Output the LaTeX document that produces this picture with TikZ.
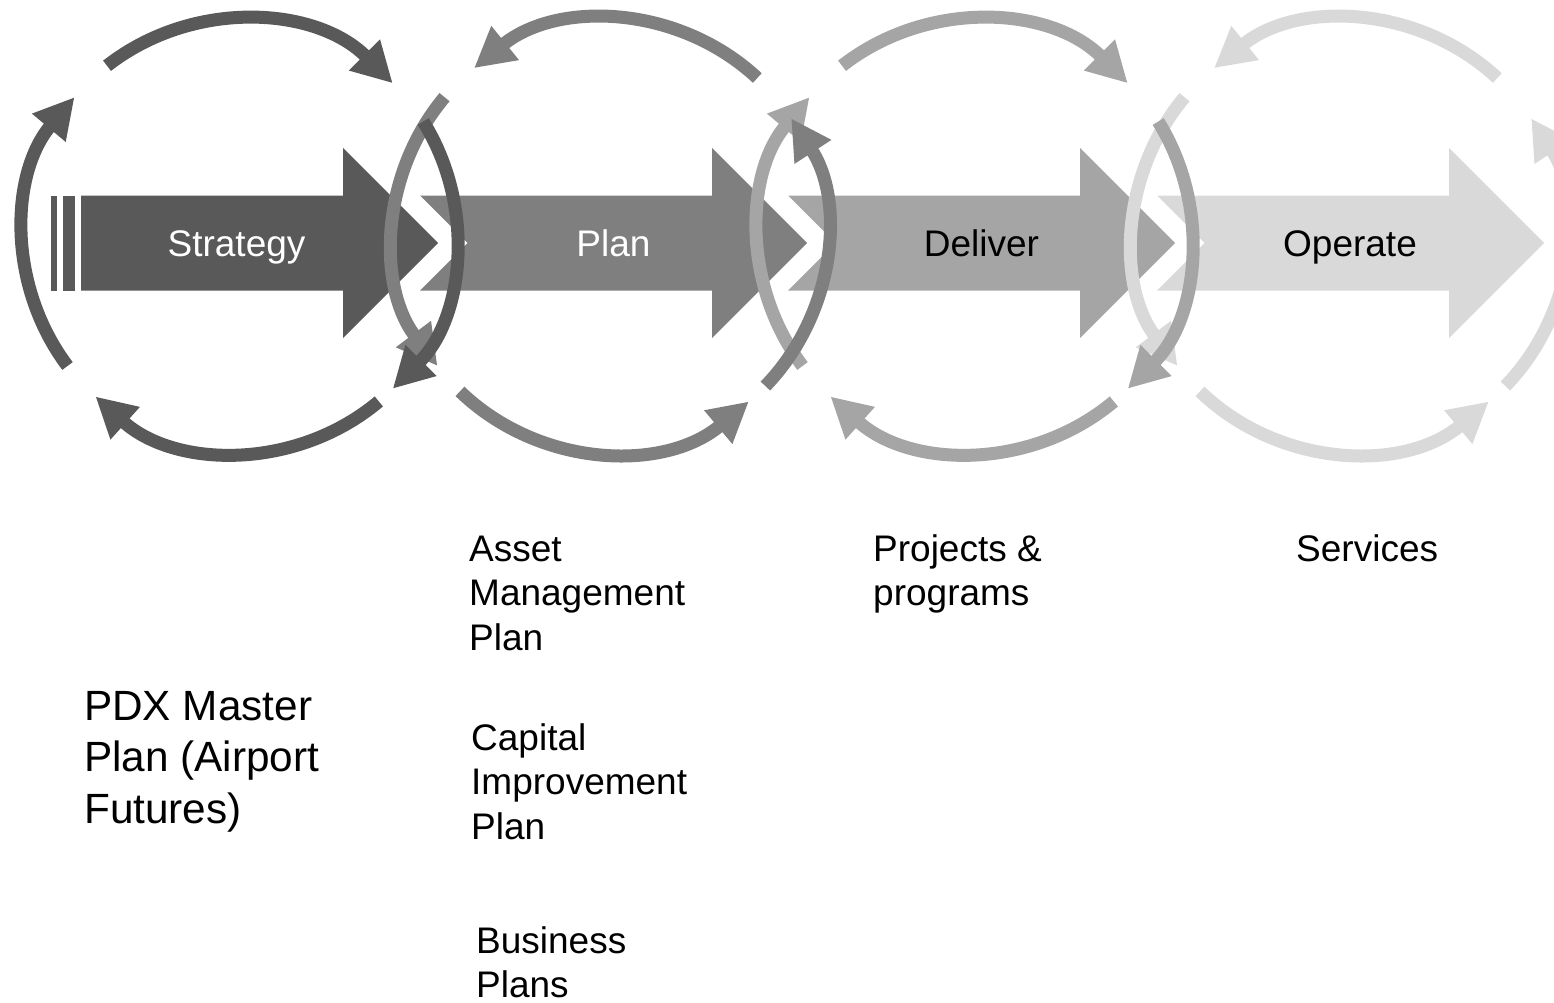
\documentclass[tikz,border=0pt]{standalone}
\usepackage{fontspec}
\setmainfont{Liberation Sans}
\usetikzlibrary{arrows.meta}
\definecolor{cA}{HTML}{595959}
\definecolor{cB}{HTML}{7F7F7F}
\definecolor{cC}{HTML}{A5A5A5}
\definecolor{cD}{HTML}{D9D9D9}
\begin{document}
\begin{tikzpicture}[x=1pt,y=1pt,
  ringarc/.style={line width=13pt,-{Triangle[width=41pt,length=40pt]}},
  lbl/.style={font=\fontsize{37}{44.5}\selectfont,inner sep=0pt,anchor=base},
  note/.style={font=\fontsize{37}{44.5}\selectfont,inner sep=0pt,anchor=base west},
  bignote/.style={font=\fontsize{42.3}{51.5}\selectfont,inner sep=0pt,anchor=base west}]
\path[use as bounding box] (0,0) rectangle (1554,-1003);
\clip (0,0) rectangle (1554,-1003);

% block arrows
\fill[cA] (51,-195.5) rectangle (57.3,-290.5);
\fill[cA] (62.7,-195.5) rectangle (75,-290.5);
\fill[cA] (81,-195.5) -- (343,-195.5) -- (343,-148) -- (438,-243) -- (343,-338) -- (343,-290.5) -- (81,-290.5) -- cycle;
\foreach \l/\c in {420/cB,788/cC,1157/cD}{
  \fill[\c] (\l,-195.5) -- ({\l+292},-195.5) -- ({\l+292},-148) -- ({\l+387},-243)
     -- ({\l+292},-338) -- ({\l+292},-290.5) -- (\l,-290.5) -- ({\l+47.5},-243) -- cycle;
}

% circle 4 (ccw)
\begin{scope}[cD]
\draw[ringarc] (1350,-236) ++(47:216) arc[start angle=47,end angle=129,radius=216];
\draw[ringarc] (1350,-236) ++(-44:216) arc[start angle=-44,end angle=33,radius=216];
\draw[ringarc] (1350,-236) ++(226:216) arc[start angle=226,end angle=310,radius=216];
\draw[ringarc] (1350,-236) ++(140:216) arc[start angle=140,end angle=217,radius=216];
\end{scope}
% circle 3 (cw)
\begin{scope}[cC]
\draw[ringarc] (975,-236) ++(128:216) arc[start angle=128,end angle=45,radius=216];
\draw[ringarc] (975,-236) ++(32:216) arc[start angle=32,end angle=-45,radius=216];
\draw[ringarc] (975,-236) ++(-50:216) arc[start angle=-50,end angle=-132,radius=216];
\draw[ringarc] (975,-236) ++(217:216) arc[start angle=217,end angle=140,radius=216];
\end{scope}
% circle 2 (ccw)
\begin{scope}[cB]
\draw[ringarc] (610,-236) ++(47:216) arc[start angle=47,end angle=129,radius=216];
\draw[ringarc] (610,-236) ++(-44:216) arc[start angle=-44,end angle=33,radius=216];
\draw[ringarc] (610,-236) ++(226:216) arc[start angle=226,end angle=310,radius=216];
\draw[ringarc] (610,-236) ++(140:216) arc[start angle=140,end angle=217,radius=216];
\end{scope}
% circle 1 (cw)
\begin{scope}[cA]
\draw[ringarc] (240,-236) ++(128:216) arc[start angle=128,end angle=45,radius=216];
\draw[ringarc] (240,-236) ++(32:216) arc[start angle=32,end angle=-45,radius=216];
\draw[ringarc] (240,-236) ++(-50:216) arc[start angle=-50,end angle=-132,radius=216];
\draw[ringarc] (240,-236) ++(217:216) arc[start angle=217,end angle=140,radius=216];
\end{scope}

% labels in arrows
\node[lbl,text=white] (strategy) at (236.5,-256.5) {Strategy};
\node[lbl,text=white] (plan) at (613.5,-256.5) {Plan};
\node[lbl,text=black] (deliver) at (981.5,-256.5) {Deliver};
\node[lbl,text=black] (operate) at (1350,-256.5) {Operate};

% notes
\node[note] (am1) at (469,-561) {Asset};
\node[note] (am2) at (469,-605.5) {Management};
\node[note] (am3) at (469,-650) {Plan};
\node[note] (pp1) at (873,-561) {Projects \&};
\node[note] (pp2) at (873,-605.5) {programs};
\node[note] (sv1) at (1296,-561) {Services};
\node[note] (ci1) at (471,-750) {Capital};
\node[note] (ci2) at (471,-794.5) {Improvement};
\node[note] (ci3) at (471,-839) {Plan};
\node[note] (bp1) at (476,-953) {Business};
\node[note,text depth=0pt] (bp2) at (476,-997) {Plans};
\node[bignote] (pdx1) at (84,-720) {PDX Master};
\node[bignote] (pdx2) at (84,-771.5) {Plan (Airport};
\node[bignote] (pdx3) at (84,-823) {Futures)};
\end{tikzpicture}
\end{document}
